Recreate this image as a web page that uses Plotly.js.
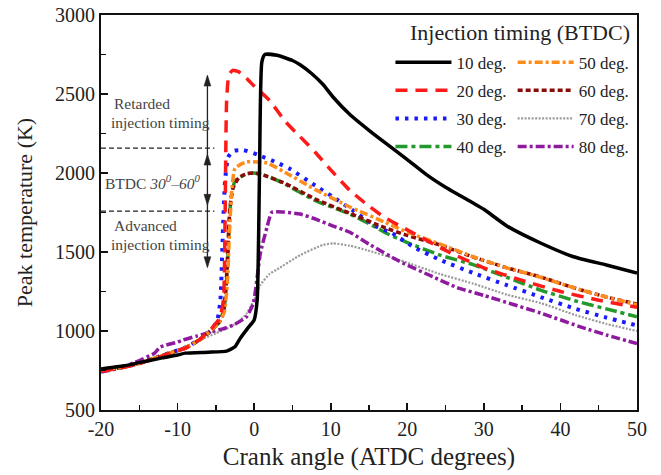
<!DOCTYPE html>
<html>
<head>
<meta charset="utf-8">
<script src="https://cdn.plot.ly/plotly-3.0.1.min.js"></script>
<style>
  html, body { margin: 0; padding: 0; background: #fff; }
  #chart { width: 661px; height: 475px; }
</style>
</head>
<body>
<div id="chart"></div>
<script>
// Peak in-cylinder temperature vs crank angle for several injection timings
const x10 = [-20,-17,-15,-12,-10,-9,-6,-3.6,-2.5,-1.8,-0.8,0,0.4,0.7,1.0,1.4,3,5,6,7.5,9,10.3,12.5,15,17,20,22.5,25,28.6,30,33,37.4,41.7,46,50];
const t10 = [760,780,800,830,848,860,866,873,900,955,1020,1070,1200,2000,2700,2750,2745,2712,2685,2630,2560,2481,2370,2270,2195,2085,1990,1910,1810,1770,1665,1557,1470,1418,1367];

const x20 = [-20,-17,-15,-13,-11,-9,-7,-5.5,-4.5,-4,-3.8,-3.6,-3.3,-2.8,-2,-1,0,2,4,6,8,10,12.5,15,17,20,25,30,35,40,45,50];
const t20 = [745,770,795,825,860,890,950,1020,1080,1200,1700,2450,2620,2650,2640,2600,2550,2460,2330,2230,2130,2020,1890,1790,1720,1640,1510,1400,1320,1250,1195,1150];

const x30 = [-20,-17,-15,-13,-11,-9,-7,-5.5,-4.8,-4.4,-4.1,-3.8,-3.4,-2.7,-1.4,0.5,3,4.7,8,10.3,13,16,18,20.8,24.3,28.6,33,37.4,42,46,50];
const t30 = [750,772,795,828,862,895,950,1010,1070,1200,1600,1950,2100,2140,2145,2115,2065,2025,1920,1848,1760,1660,1620,1532,1450,1367,1290,1215,1140,1085,1035];

const x40 = [-20,-17,-15,-13,-11,-9,-7,-5.5,-4.5,-3.9,-3.5,-3.1,-2.5,-1,0,2,4,8,12.5,15,17,20,24.3,28.6,33,37.4,42,46,50];
const t40 = [750,772,795,828,860,893,948,1010,1060,1150,1400,1800,1950,1995,2000,1975,1930,1825,1740,1680,1625,1560,1480,1420,1340,1259,1190,1140,1090];

const x50 = [-20,-17,-15,-13,-11,-9,-7,-5.5,-4.5,-3.9,-3.5,-3.2,-2.9,-2.5,-1,1.7,4,8,12.5,17,20,24.3,28.6,33,37.4,42,46,50];
const t50 = [750,772,795,828,860,893,948,1010,1060,1120,1300,1650,1900,2030,2070,2063,2005,1895,1785,1690,1625,1550,1470,1400,1340,1270,1215,1165];

const x60 = [-20,-17,-15,-13,-11,-9,-7,-5.5,-4.5,-4,-3.6,-3.2,-2.8,-2,-1,0,1,4,8,12.5,17,20,24.3,28.6,33,37.4,42,46,50];
const t60 = [750,772,795,828,860,893,948,1010,1060,1120,1350,1750,1900,1970,1995,2000,1990,1935,1835,1745,1655,1605,1544,1468,1400,1342,1270,1215,1170];

const x70 = [-20,-17,-15,-13,-11,-9,-7,-5,-3,-2,-1,0,0.8,2,3,6,9,10.3,12.5,14.7,19,24.3,28.6,33,37.4,42,46,50];
const t70 = [750,772,795,828,862,900,945,985,1030,1060,1110,1196,1290,1360,1390,1480,1545,1555,1540,1512,1449,1360,1300,1230,1177,1100,1045,1000];

const x80 = [-20,-18,-15.8,-13,-12.3,-10,-9.3,-7.5,-5.7,-4,-2.7,-1,-0.1,0.5,0.8,1.7,2.3,3.8,6,8.2,10,12.5,15,19,23.4,26.5,30,37.4,43,46,50];
const t80 = [740,760,797,860,898,930,943,968,993,1015,1038,1090,1177,1380,1490,1660,1750,1753,1740,1705,1670,1625,1550,1440,1342,1275,1225,1114,1020,975,920];

const seriesNames = ['10 deg.','20 deg.','30 deg.','40 deg.','50 deg.','60 deg.','70 deg.','80 deg.'];
const xTickVals = [-20,-10,0,10,20,30,40,50];
const xTickText = ['-20','-10','0','10','20','30','40','50'];
const yTickVals = [500,1000,1500,2000,2500,3000];

const serif = 'Liberation Serif, Times New Roman, serif';

function line(x, y, idx, color, dash, width, legend) {
  return {
    x: x, y: y, name: seriesNames[idx], type: 'scatter', mode: 'lines',
    line: { color: color, dash: dash, width: width, shape: 'spline', smoothing: 0.5 },
    legend: legend, legendgroup: 'g' + idx, legendrank: idx + 1, hoverinfo: 'skip'
  };
}

// drawn back to front; the 10 deg. curve sits on top
const traces = [
  line(x70, t70, 6, '#9a9a9a', '2px,1.5px', 2.2, 'legend2'),
  line(x80, t80, 7, '#8e1a9e', '9px,3px,3px,3px', 3.5, 'legend2'),
  line(x40, t40, 3, '#22992a', '12px,4px,4px,4px', 3.5, 'legend'),
  line(x30, t30, 2, '#1a1aff', '3.5px,6px', 4, 'legend'),
  line(x60, t60, 5, '#8b0a0a', '5px,3px', 3.5, 'legend2'),
  line(x50, t50, 4, '#ff8c1a', '8px,3px,3px,3px', 3.5, 'legend2'),
  line(x20, t20, 1, '#ff1a1a', '12px,8px', 3.5, 'legend'),
  line(x10, t10, 0, '#000000', 'solid', 3.5, 'legend')
];

const noteFont = { family: serif, size: 15.5, color: '#444' };
function note(x, y, text) {
  return { x: x, y: y, xref: 'x', yref: 'y', text: text, showarrow: false,
           xanchor: 'left', yanchor: 'middle', font: noteFont };
}

// vertical range marker with arrowheads, in data units
const arrowX = -6.1;
const headHalfW = 0.45, headLen = 70;
function head(yTip, dir) {
  const yb = yTip - dir * headLen;
  return { type: 'path', xref: 'x', yref: 'y',
           path: `M ${arrowX},${yTip} L ${arrowX - headHalfW},${yb} L ${arrowX + headHalfW},${yb} Z`,
           fillcolor: '#222', line: { color: '#222', width: 0.5 } };
}

const layout = {
  width: 661, height: 475,
  margin: { l: 101, r: 24, t: 15, b: 65 },
  paper_bgcolor: '#fff', plot_bgcolor: '#fff',
  font: { family: serif, color: '#222' },
  showlegend: true,
  xaxis: {
    range: [-20, 50], tickvals: xTickVals, ticktext: xTickText,
    ticks: 'inside', ticklen: 7, tickwidth: 1.8, tickcolor: '#111',
    minor: { dtick: 5, ticks: 'inside', ticklen: 5, tickwidth: 1.5, tickcolor: '#111' },
    showline: true, linecolor: '#111', linewidth: 2, mirror: true,
    showgrid: false, zeroline: false,
    tickfont: { family: serif, size: 20, color: '#222' },
    title: { text: 'Crank angle (ATDC degrees)', font: { family: serif, size: 25, color: '#222' }, standoff: 8 }
  },
  yaxis: {
    range: [500, 3000], tickvals: yTickVals,
    ticks: 'inside', ticklen: 7, tickwidth: 1.8, tickcolor: '#111',
    minor: { dtick: 250, ticks: 'inside', ticklen: 5, tickwidth: 1.5, tickcolor: '#111' },
    showline: true, linecolor: '#111', linewidth: 2, mirror: true,
    showgrid: false, zeroline: false,
    tickfont: { family: serif, size: 20, color: '#222' },
    title: { text: 'Peak temperature (K)', font: { family: serif, size: 22, color: '#222' }, standoff: 16 }
  },
  legend: {
    x: 0.54, y: 0.925, xanchor: 'left', yanchor: 'top',
    bgcolor: 'rgba(0,0,0,0)', itemwidth: 56, tracegroupgap: 3,
    font: { family: serif, size: 17, color: '#222' }
  },
  legend2: {
    x: 0.768, y: 0.925, xanchor: 'left', yanchor: 'top',
    bgcolor: 'rgba(0,0,0,0)', itemwidth: 56, tracegroupgap: 3,
    font: { family: serif, size: 17, color: '#222' }
  },
  shapes: [
    { type: 'line', xref: 'x', yref: 'y', x0: -20, x1: -5.2, y0: 2158, y1: 2158,
      line: { color: '#222', width: 1.3, dash: '5px,3px' } },
    { type: 'line', xref: 'x', yref: 'y', x0: -20, x1: -5.2, y0: 1759, y1: 1759,
      line: { color: '#222', width: 1.3, dash: '5px,3px' } },
    { type: 'line', xref: 'x', yref: 'y', x0: arrowX, x1: arrowX, y0: 1410, y1: 2610,
      line: { color: '#222', width: 1.3 } },
    head(2620, 1), head(2120, 1), head(1795, -1), head(1400, -1)
  ],
  annotations: [
    { xref: 'paper', yref: 'paper', x: 0.99, y: 0.955, xanchor: 'right', yanchor: 'middle',
      text: 'Injection timing (BTDC)', showarrow: false,
      font: { family: serif, size: 22, color: '#222' } },
    note(-18.5, 2440, 'Retarded'),
    note(-18.9, 2320, 'injection timing'),
    note(-19.7, 1940, 'BTDC <i>30<sup>0</sup>–60<sup>0</sup></i>'),
    note(-18.5, 1665, 'Advanced'),
    note(-18.9, 1545, 'injection timing')
  ]
};

Plotly.newPlot('chart', traces, layout, { displayModeBar: false, staticPlot: true });
</script>
</body>
</html>
